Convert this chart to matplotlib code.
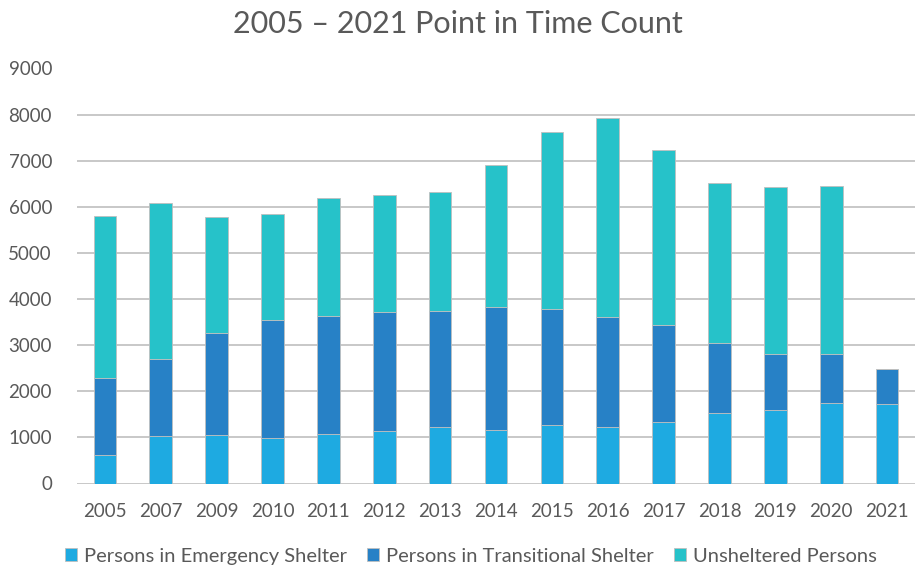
#!/usr/bin/env python3
import matplotlib.pyplot as plt
import numpy as np

# BEGIN data
years = ["2005", "2007", "2009", "2010", "2011", "2012", "2013", "2014",
         "2015", "2016", "2017", "2018", "2019", "2020", "2021"]
emergency = [615, 1030, 1050, 990, 1065, 1140, 1220, 1160,
             1265, 1220, 1340, 1530, 1600, 1750, 1730]
transitional = [1675, 1670, 2220, 2550, 2575, 2580, 2520, 2660,
                2515, 2400, 2090, 1520, 1200, 1055, 760]
unsheltered = [3510, 3375, 2510, 2295, 2550, 2530, 2590, 3090,
               3840, 4305, 3800, 3470, 3640, 3655, 0]
series = ["Persons in Emergency Shelter", "Persons in Transitional Shelter",
          "Unsheltered Persons"]
colors = ["#1EAAE1", "#2781C6", "#26C2C9"]
# END data

plt.rcParams["font.family"] = ["Lato", "DejaVu Sans"]

fig = plt.figure(figsize=(9.15, 5.67), dpi=100)
ax = fig.add_axes([77 / 915, 1 - 483.5 / 567, 838 / 915, 415 / 567])

x = np.arange(len(years))
bottom = np.zeros(len(years))
for vals, lbl, c in zip([emergency, transitional, unsheltered], series, colors):
    ax.bar(x, vals, width=0.405, bottom=bottom, color=c, label=lbl,
           edgecolor="#bfbfbf", linewidth=0.6, zorder=3)
    bottom += np.array(vals)

ax.set_xlim(-0.5, len(years) - 0.5)
ax.set_ylim(0, 9000)
ax.set_yticks(range(0, 9001, 1000))
ax.set_xticks(x)
ax.set_xticklabels(years)
ax.grid(axis="y", color="#bfbfbf", linewidth=1.2, zorder=0)
for s in ax.spines.values():
    s.set_visible(False)
ax.tick_params(length=0, labelsize=13.5, colors="#595959")
ax.tick_params(axis="x", pad=14)
ax.tick_params(axis="y", pad=18)

fig.suptitle("2005 \u2013 2021 Point in Time Count", fontsize=22, color="#595959", y=0.983)
fig.legend(loc="lower center", ncol=3, frameon=False, fontsize=14.5,
           bbox_to_anchor=(0.515, -0.028), handlelength=0.6, handleheight=0.6,
           handletextpad=0.35, columnspacing=1.0, labelcolor="#595959")

fig.savefig("out.png")
